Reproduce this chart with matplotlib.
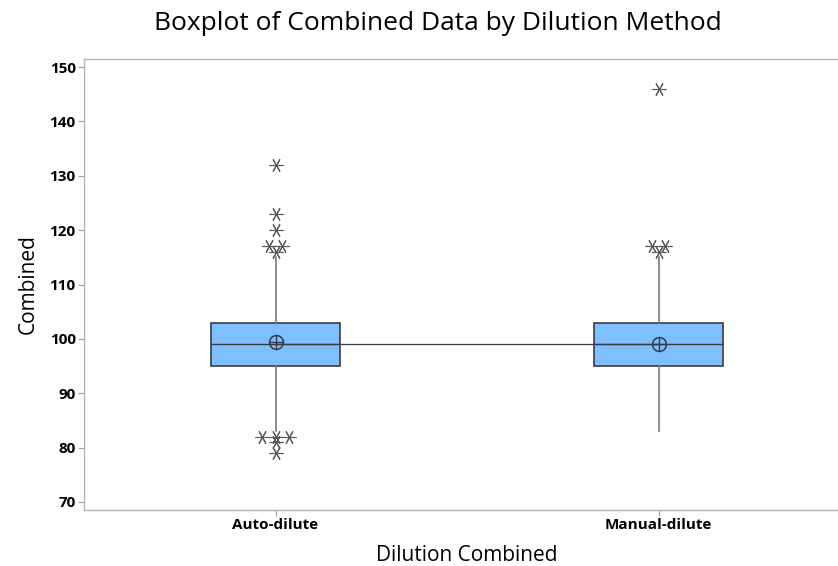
import matplotlib
matplotlib.use("Agg")
import matplotlib.pyplot as plt
from collections import Counter

plt.rcParams['font.family'] = ['Open Sans', 'DejaVu Sans']

# Group labels
groups = ["Auto-dilute", "Manual-dilute"]

# Box summaries per group
q1 = [95, 95]
median = [99, 99]
q3 = [103, 103]
whisker_low = [83, 83]
whisker_high = [115, 115]
means = [99.4, 99.1]

# Outlying observations per group
outliers_auto = [132, 123, 120, 117, 117, 116, 82, 82, 82, 81, 79]
outliers_manual = [146, 117, 117, 116]
outliers = [outliers_auto, outliers_manual]

yticks = [70, 80, 90, 100, 110, 120, 130, 140, 150]

fig = plt.figure(figsize=(8.38, 5.66), dpi=100)
W, H = 838, 566
ax = fig.add_axes([84 / W, 1 - 510 / H, (850 - 84) / W, (510 - 59) / H])

positions = [1, 2]
stats = []
for i, g in enumerate(groups):
    stats.append(dict(label=g, q1=q1[i], med=median[i], q3=q3[i],
                      whislo=whisker_low[i], whishi=whisker_high[i],
                      mean=means[i], fliers=[]))

box_edge = "#3c3c3c"
whisk_col = "#7a7a7a"
ax.bxp(stats, positions=positions, widths=0.337, patch_artist=True,
       showfliers=False, showcaps=False, showmeans=False,
       boxprops=dict(facecolor="#7dbfff", edgecolor=box_edge, linewidth=1.2),
       medianprops=dict(color=box_edge, linewidth=1.0),
       whiskerprops=dict(color=whisk_col, linewidth=1.2),
       zorder=2)

# Line joining the medians
ax.plot(positions, median, color=box_edge, linewidth=0.9, zorder=3)

# Mean symbols: circle with crosshair
ax.plot(positions, means, linestyle="none", marker="o", markersize=10,
        markerfacecolor="none", markeredgecolor="#2e3a4e", markeredgewidth=1.1, zorder=4)
ax.plot(positions, means, linestyle="none", marker="+", markersize=10,
        markeredgecolor="#2e3a4e", markeredgewidth=1.0, zorder=4)

# Outliers drawn as asterisks; repeated values are spread sideways
step = 0.034
star = (6, 2, 90)
for pos, vals in zip(positions, outliers):
    counts = Counter(vals)
    for v, n in counts.items():
        for k in range(n):
            off = (k - (n - 1) / 2) * step
            ax.plot(pos + off, v, linestyle="none", marker=star, markersize=10,
                    markeredgecolor="#5a5a5a", markeredgewidth=0.8, zorder=5)

ax.set_xlim(0.5, 2.5)
ax.set_ylim(68.5, 151.5)
ax.set_xticks(positions)
ax.set_xticklabels(groups, fontsize=11, fontweight="bold")
ax.set_yticks(yticks)
ax.set_yticklabels([str(t) for t in yticks], fontsize=11, fontweight="bold")
ax.tick_params(axis="both", length=4, width=0.8, color="#a0a0a0", pad=2)

for side in ["left", "bottom", "top", "right"]:
    ax.spines[side].set_color("#b4b4b4")
    ax.spines[side].set_linewidth(1.0)

ax.set_xlabel("Dilution Combined", fontsize=15, labelpad=9)
ax.set_ylabel("Combined", fontsize=15, labelpad=8)

fig.text(438 / W, 1 - 24 / H, "Boxplot of Combined Data by Dilution Method",
         ha="center", va="center", fontsize=19)

fig.savefig("out.png", dpi=100)
